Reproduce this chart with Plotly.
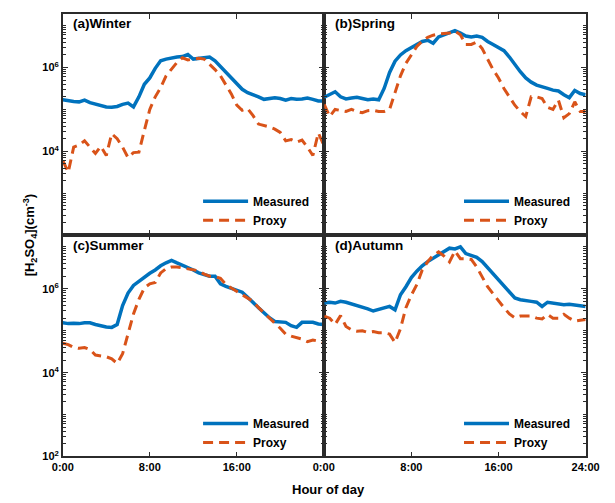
import plotly.graph_objects as go

# Hour of day (half-hour grid)
hours = [i * 0.5 for i in range(49)]

# log10 of [H2SO4] (cm^-3)
winter_measured = [5.23,5.20,5.19,5.18,5.22,5.16,5.12,5.08,5.06,5.05,5.07,5.12,5.15,5.06,5.30,5.60,5.75,5.98,6.16,6.20,6.23,6.25,6.26,6.31,6.20,6.22,6.24,6.25,6.16,6.02,5.90,5.75,5.62,5.48,5.40,5.36,5.30,5.24,5.25,5.28,5.26,5.22,5.26,5.24,5.25,5.27,5.24,5.20,5.20]
winter_proxy = [3.78,3.50,4.10,4.15,4.25,4.10,3.95,4.12,3.90,4.42,4.30,4.10,3.85,3.97,3.98,4.50,5.00,5.30,5.52,5.80,5.95,6.12,6.23,6.18,6.20,6.22,6.20,6.08,5.95,5.80,5.60,5.37,5.10,4.98,5.02,4.85,4.65,4.62,4.58,4.53,4.45,4.25,4.28,4.22,4.27,4.10,3.90,4.44,4.15]

spring_measured = [5.29,5.35,5.42,5.30,5.25,5.27,5.29,5.26,5.23,5.25,5.23,5.50,5.88,6.15,6.30,6.40,6.48,6.56,6.62,6.65,6.58,6.73,6.78,6.82,6.88,6.82,6.75,6.73,6.75,6.72,6.62,6.55,6.48,6.40,6.25,6.07,5.90,5.75,5.65,5.58,5.53,5.50,5.46,5.44,5.35,5.28,5.45,5.38,5.35]
spring_proxy = [5.12,4.83,5.00,4.98,4.95,5.00,4.95,4.92,4.97,4.98,4.95,4.95,5.00,5.40,5.80,6.10,6.30,6.50,6.63,6.72,6.77,6.80,6.81,6.82,6.87,6.78,6.55,6.55,6.61,6.45,6.20,5.95,5.75,5.50,5.30,5.10,4.95,4.83,5.30,5.30,5.26,5.05,5.00,5.22,4.80,4.90,5.18,4.95,4.95]

summer_measured = [5.19,5.17,5.18,5.17,5.19,5.19,5.15,5.11,5.09,5.08,5.15,5.60,5.90,6.08,6.18,6.28,6.37,6.45,6.55,6.62,6.68,6.62,6.57,6.50,6.45,6.38,6.33,6.30,6.30,6.12,6.06,6.02,5.98,5.92,5.80,5.66,5.55,5.43,5.31,5.22,5.20,5.20,5.12,5.08,5.20,5.19,5.20,5.16,5.15]
summer_proxy = [4.70,4.67,4.60,4.58,4.60,4.55,4.42,4.40,4.38,4.33,4.22,4.45,4.95,5.40,5.75,6.02,6.12,6.15,6.38,6.48,6.52,6.52,6.50,6.48,6.46,6.43,6.35,6.30,6.29,6.25,6.10,6.02,5.95,5.88,5.80,5.70,5.55,5.42,5.31,5.18,5.06,4.92,4.87,4.84,4.80,4.74,4.78,4.75,4.70]

autumn_measured = [5.66,5.68,5.66,5.70,5.68,5.64,5.60,5.58,5.52,5.47,5.50,5.55,5.58,5.50,5.86,6.05,6.27,6.42,6.55,6.65,6.73,6.83,6.90,6.97,6.95,7.00,6.84,6.80,6.75,6.65,6.50,6.35,6.20,6.05,5.90,5.78,5.74,5.73,5.70,5.68,5.58,5.68,5.66,5.64,5.62,5.63,5.62,5.60,5.58]
autumn_proxy = [5.35,5.30,5.15,5.36,5.10,5.02,4.99,5.00,4.96,4.98,4.95,4.95,4.92,4.72,5.05,5.55,5.85,6.10,6.45,6.65,6.80,6.88,6.78,6.64,6.90,6.72,6.72,6.70,6.52,6.30,6.05,5.88,5.70,5.55,5.40,5.31,5.35,5.35,5.35,5.30,5.28,5.39,5.30,5.30,5.39,5.30,5.23,5.25,5.27]

panel_titles = ["(a)Winter", "(b)Spring", "(c)Summer", "(d)Autumn"]
series = [(winter_measured, winter_proxy), (spring_measured, spring_proxy),
          (summer_measured, summer_proxy), (autumn_measured, autumn_proxy)]

BLUE = "#0072BD"
ORANGE = "#D95319"
FONT = "Liberation Sans, Arial, sans-serif"
W, H = 615, 503

def px_x(p):
    return p / W

def px_y(p):
    return 1 - p / H

xl = [px_x(54), px_x(326)]
xr = [px_x(326.5), px_x(599)]
yt = [px_y(238), px_y(14)]
yb = [px_y(462), px_y(238)]
domains = [(xl, yt), (xr, yt), (xl, yb), (xr, yb)]

fig = go.Figure()
legend_names = ["legend", "legend2", "legend3", "legend4"]
for i, (meas, prox) in enumerate(series):
    xa = "x" if i == 0 else f"x{i+1}"
    ya = "y" if i == 0 else f"y{i+1}"
    fig.add_trace(go.Scatter(x=hours, y=[10 ** v for v in meas], mode="lines",
                             name="Measured", line=dict(color=BLUE, width=3.5),
                             xaxis=xa, yaxis=ya, legend=legend_names[i]))
    fig.add_trace(go.Scatter(x=hours, y=[10 ** v for v in prox], mode="lines",
                             name="Proxy", line=dict(color=ORANGE, width=3, dash="10px,6px"),
                             xaxis=xa, yaxis=ya, legend=legend_names[i]))

tickfont = dict(family=FONT, size=11, color="black", weight="bold")
axis_common = dict(showline=True, linecolor="#2b2b2b", linewidth=1.5, mirror="ticks",
                   ticks="inside", tickcolor="#2b2b2b", ticklen=5, showgrid=False,
                   zeroline=False, tickfont=tickfont)

layout = dict(width=W, height=H, margin=dict(l=0, r=0, t=0, b=0),
              paper_bgcolor="white", plot_bgcolor="white", font=dict(family=FONT))

for i in range(4):
    xd, yd = domains[i]
    xk = "xaxis" if i == 0 else f"xaxis{i+1}"
    yk = "yaxis" if i == 0 else f"yaxis{i+1}"
    ya = "y" if i == 0 else f"y{i+1}"
    xa = "x" if i == 0 else f"x{i+1}"
    bottom = i >= 2
    left = i % 2 == 0
    xcfg = dict(axis_common, domain=xd, anchor=ya, range=[0, 24], tickmode="array",
                showticklabels=bottom)
    if bottom and left:
        xcfg.update(tickvals=[0, 8, 16, 24], ticktext=["0:00", "8:00", "16:00", "0:00"])
    elif bottom:
        xcfg.update(tickvals=[8, 16, 24], ticktext=["8:00", "16:00", "24:00"])
    else:
        xcfg.update(tickvals=[8, 16])
    layout[xk] = xcfg
    ycfg = dict(axis_common, domain=yd, anchor=xa, type="log", range=[2, 7.28],
                tickmode="array", showticklabels=left,
                minor=dict(ticks="inside", ticklen=3, tickcolor="#2b2b2b",
                           dtick="D1", showgrid=False))
    if left and bottom:
        ycfg.update(tickvals=[1e2, 1e4, 1e6],
                    ticktext=["10<sup>2</sup>", "10<sup>4</sup>", "10<sup>6</sup>"])
    elif left:
        ycfg.update(tickvals=[1e4, 1e6], ticktext=["10<sup>4</sup>", "10<sup>6</sup>"])
    else:
        ycfg.update(tickvals=[1e4, 1e6])
    layout[yk] = ycfg

legend_pos = [(195, 189), (467, 189), (195, 414), (467, 414)]
for i, name in enumerate(legend_names):
    lx, ly = legend_pos[i]
    layout[name] = dict(x=px_x(lx), y=px_y(ly), xanchor="left", yanchor="top",
                        bgcolor="rgba(0,0,0,0)", borderwidth=0,
                        font=dict(family=FONT, size=12, color="black", weight="bold"),
                        itemwidth=45, tracegroupgap=0)

annotations = []
title_pos = [(63, 24), (336, 24), (63, 248), (336, 248)]
for i, t in enumerate(panel_titles):
    tx, ty = title_pos[i]
    annotations.append(dict(text=t, x=px_x(tx), y=px_y(ty), xref="paper", yref="paper",
                            xanchor="left", yanchor="middle", showarrow=False,
                            font=dict(family=FONT, size=13.5, color="black", weight="bold")))
annotations.append(dict(text="Hour of day", x=px_x(331), y=px_y(495), xref="paper", yref="paper",
                        xanchor="center", yanchor="middle", showarrow=False,
                        font=dict(family=FONT, size=13, color="black", weight="bold")))
annotations.append(dict(text="[H<sub>2</sub>SO<sub>4</sub>](cm<sup>-3</sup>)", x=px_x(20), y=px_y(238),
                        xref="paper", yref="paper", xanchor="center", yanchor="middle",
                        textangle=-90, showarrow=False,
                        font=dict(family=FONT, size=13, color="black", weight="bold")))
layout["annotations"] = annotations

fig.update_layout(**layout)
fig.write_html("out.html")
